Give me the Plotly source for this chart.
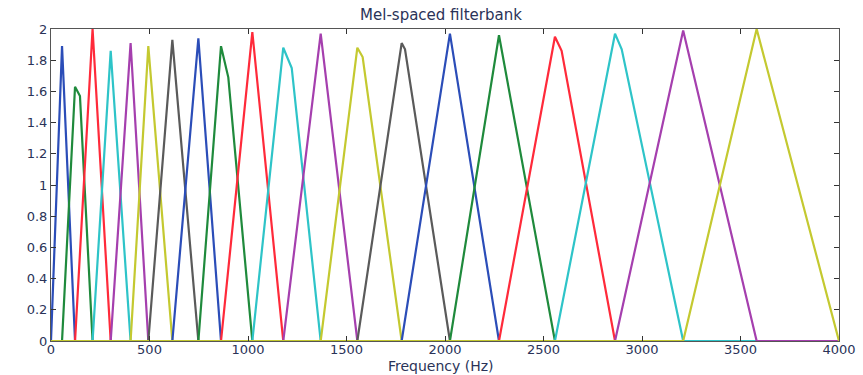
import plotly.graph_objects as go

# Filter centre frequencies (Hz) and peak heights
centers = [56, 122, 211, 303, 404, 494, 616, 748, 863, 1022,
           1179, 1369, 1555, 1780, 2025, 2274, 2558, 2863, 3209, 3582]
heights = [1.89, 1.63, 2.00, 1.86, 1.91, 1.89, 1.93, 1.94, 1.89, 1.98,
           1.88, 1.97, 1.88, 1.91, 1.97, 1.96, 1.95, 1.97, 1.99, 2.00]
# Small shoulders just after some peaks (freq, value); None where absent
shoulder_f = [None, 147, None, None, None, None, None, None, 900, None,
              1222, None, 1582, 1797, None, None, 2592, 2897, None, None]
shoulder_v = [None, 1.57, None, None, None, None, None, None, 1.69, None,
              1.75, None, 1.82, 1.87, None, None, 1.86, 1.87, None, None]

f_min, f_max = 0, 4000
colors = ["#2b4db8", "#1f8a3c", "#ff2a3a", "#2ec4c8", "#a53fae", "#c4c930", "#5a5a5a"]

x_ticks = [0, 500, 1000, 1500, 2000, 2500, 3000, 3500, 4000]
y_ticks = [0, 0.2, 0.4, 0.6, 0.8, 1, 1.2, 1.4, 1.6, 1.8, 2]
y_ticktext = ["0", "0.2", "0.4", "0.6", "0.8", "1", "1.2", "1.4", "1.6", "1.8", "2"]

fig = go.Figure()
n = len(centers)
for i in range(n):
    left = centers[i - 1] if i > 0 else f_min
    right = centers[i + 1] if i < n - 1 else f_max
    xs, ys = [], []
    if left > f_min:
        xs.append(f_min); ys.append(0)
    xs.append(left); ys.append(0)
    xs.append(centers[i]); ys.append(heights[i])
    if shoulder_f[i] is not None:
        xs.append(shoulder_f[i]); ys.append(shoulder_v[i])
    xs.append(right); ys.append(0)
    if right < f_max:
        xs.append(f_max); ys.append(0)
    fig.add_trace(go.Scatter(x=xs, y=ys, mode="lines",
                             line=dict(color=colors[i % len(colors)], width=2.2),
                             showlegend=False, hoverinfo="skip", cliponaxis=False))

txt_color = "#2a3358"
axis_font = dict(family="DejaVu Sans, sans-serif", size=13, color=txt_color)
fig.update_layout(
    width=863, height=375,
    margin=dict(l=51, r=24, t=29, b=34, autoexpand=False),
    paper_bgcolor="white", plot_bgcolor="white",
    title=dict(text="Mel-spaced filterbank", x=0.511, xanchor="center",
               y=0.96, yanchor="middle",
               font=dict(family="DejaVu Sans, sans-serif", size=15, color=txt_color)),
    xaxis=dict(range=[f_min, f_max], tickvals=x_ticks, ticks="inside", ticklen=5,
               tickcolor="#333", showline=True, linecolor="#555", linewidth=1,
               mirror="ticks", showgrid=False, zeroline=False, tickfont=axis_font,
               ticklabelstandoff=-4, automargin=False),
    yaxis=dict(range=[0, 2], tickvals=y_ticks, ticktext=y_ticktext, ticks="inside",
               ticklen=5, tickcolor="#333", showline=True, linecolor="#555", linewidth=1,
               mirror="ticks", showgrid=False, zeroline=False, tickfont=axis_font,
               automargin=False),
    annotations=[dict(text="Frequency (Hz)", xref="paper", yref="paper",
                      x=0.495, y=-0.108, xanchor="center", yanchor="bottom",
                      showarrow=False, borderpad=0,
                      font=dict(family="DejaVu Sans, sans-serif", size=14, color=txt_color))],
)

fig.write_html("out.html")
